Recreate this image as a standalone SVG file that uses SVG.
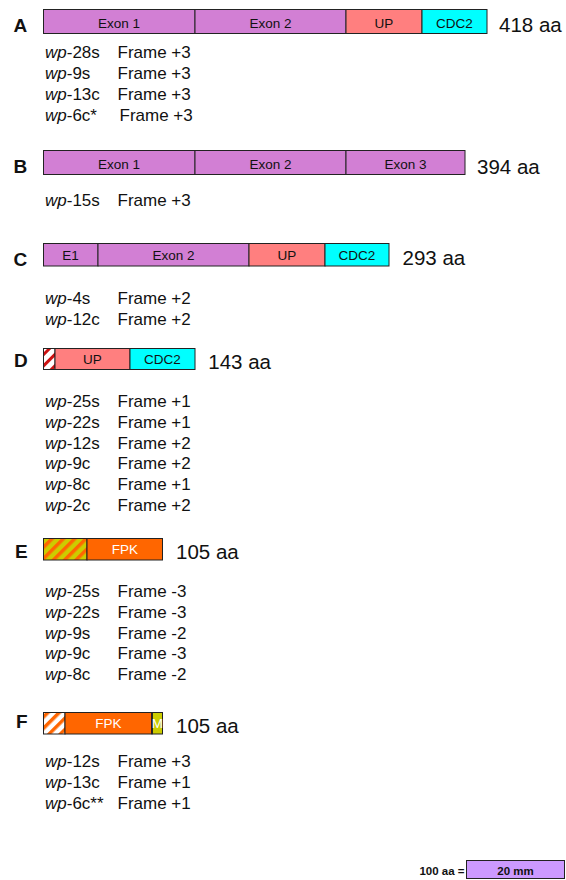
<svg xmlns="http://www.w3.org/2000/svg" width="566" height="880" viewBox="0 0 566 880">
  <style>
    text { font-family: "Liberation Sans", Arial, sans-serif; fill: #111; }
    .tag { font-size: 19px; font-weight: bold; }
    .len { font-size: 20.5px; }
    .seg { font-size: 13.5px; text-anchor: middle; }
    .segw { font-size: 13.5px; text-anchor: middle; fill: #fff; }
    .row { font-size: 17px; }
    .it { font-style: italic; }
    .box { stroke: #222; stroke-width: 1; }
    .exon { fill: #d27fd4; }
    .up { fill: #ff7f7f; }
    .cdc { fill: #00ffff; }
    .fpk { fill: #ff6600; }
    .m { fill: #cccc00; }
    .scale { font-size: 11.5px; font-weight: bold; }
  </style>
  <defs>
    <!-- diagonal stripe fills for the N-terminal leader segments -->
    <pattern id="hatchRed" patternUnits="userSpaceOnUse" width="8" height="8" patternTransform="rotate(45)">
      <rect width="8" height="8" fill="#fff"/>
      <rect width="3" height="8" fill="#cc1111"/>
    </pattern>
    <pattern id="hatchYellow" patternUnits="userSpaceOnUse" width="8" height="8" patternTransform="rotate(45)">
      <rect width="8" height="8" fill="#cccc00"/>
      <rect width="3.5" height="8" fill="#ff6600"/>
    </pattern>
    <pattern id="hatchWhite" patternUnits="userSpaceOnUse" width="8" height="8" patternTransform="rotate(45)">
      <rect width="8" height="8" fill="#fff"/>
      <rect width="3.5" height="8" fill="#ff6600"/>
    </pattern>
  </defs>

  <!-- A: 418 aa -->
  <g id="protein-A">
    <text class="tag" x="13.5" y="31.8">A</text>
    <rect class="box exon" x="43.5" y="9.5" width="151.5" height="24"/>
    <rect class="box exon" x="195" y="9.5" width="151" height="24"/>
    <rect class="box up" x="346" y="9.5" width="76" height="24"/>
    <rect class="box cdc" x="422" y="9.5" width="65" height="24"/>
    <text class="seg" x="119" y="27.5">Exon 1</text>
    <text class="seg" x="270.5" y="27.5">Exon 2</text>
    <text class="seg" x="384" y="27.5">UP</text>
    <text class="seg" x="454.5" y="27.5">CDC2</text>
    <text class="len" x="499" y="31.8">418 aa</text>
  </g>
  <g id="clones-A">
    <text class="row" x="45" y="57.5"><tspan class="it">wp</tspan>-28s</text>
    <text class="row" x="117.5" y="57.5">Frame +3</text>
    <text class="row" x="45" y="78.5"><tspan class="it">wp</tspan>-9s</text>
    <text class="row" x="117.5" y="78.5">Frame +3</text>
    <text class="row" x="45" y="99.5"><tspan class="it">wp</tspan>-13c</text>
    <text class="row" x="117.5" y="99.5">Frame +3</text>
    <text class="row" x="45" y="120.5"><tspan class="it">wp</tspan>-6c*</text>
    <text class="row" x="119.5" y="120.5">Frame +3</text>
  </g>

  <!-- B: 394 aa -->
  <g id="protein-B">
    <text class="tag" x="13.5" y="173.2">B</text>
    <rect class="box exon" x="43.5" y="150.5" width="151.5" height="24"/>
    <rect class="box exon" x="195" y="150.5" width="151" height="24"/>
    <rect class="box exon" x="346" y="150.5" width="119" height="24"/>
    <text class="seg" x="119" y="168.5">Exon 1</text>
    <text class="seg" x="270.5" y="168.5">Exon 2</text>
    <text class="seg" x="405.5" y="168.5">Exon 3</text>
    <text class="len" x="477" y="173.5">394 aa</text>
  </g>
  <g id="clones-B">
    <text class="row" x="45" y="205.5"><tspan class="it">wp</tspan>-15s</text>
    <text class="row" x="117.5" y="205.5">Frame +3</text>
  </g>

  <!-- C: 293 aa -->
  <g id="protein-C">
    <text class="tag" x="13.5" y="265.5">C</text>
    <rect class="box exon" x="43.5" y="243.5" width="54.5" height="22.5"/>
    <rect class="box exon" x="98" y="243.5" width="151" height="22.5"/>
    <rect class="box up" x="249" y="243.5" width="76" height="22.5"/>
    <rect class="box cdc" x="325" y="243.5" width="64" height="22.5"/>
    <text class="seg" x="70.5" y="260">E1</text>
    <text class="seg" x="173.5" y="260">Exon 2</text>
    <text class="seg" x="287" y="260">UP</text>
    <text class="seg" x="357" y="260">CDC2</text>
    <text class="len" x="402.5" y="265.4">293 aa</text>
  </g>
  <g id="clones-C">
    <text class="row" x="45" y="303.5"><tspan class="it">wp</tspan>-4s</text>
    <text class="row" x="117.5" y="303.5">Frame +2</text>
    <text class="row" x="45" y="324.5"><tspan class="it">wp</tspan>-12c</text>
    <text class="row" x="117.5" y="324.5">Frame +2</text>
  </g>

  <!-- D: 143 aa -->
  <g id="protein-D">
    <text class="tag" x="14" y="367.3">D</text>
    <rect class="box" x="43.5" y="348.5" width="11.5" height="21" fill="url(#hatchRed)"/>
    <rect class="box up" x="55" y="348.5" width="75" height="21"/>
    <rect class="box cdc" x="130" y="348.5" width="65" height="21"/>
    <text class="seg" x="92.5" y="364">UP</text>
    <text class="seg" x="162.5" y="364">CDC2</text>
    <text class="len" x="208.3" y="369">143 aa</text>
  </g>
  <g id="clones-D">
    <text class="row" x="45" y="406.7"><tspan class="it">wp</tspan>-25s</text>
    <text class="row" x="117.5" y="406.7">Frame +1</text>
    <text class="row" x="45" y="427.6"><tspan class="it">wp</tspan>-22s</text>
    <text class="row" x="117.5" y="427.6">Frame +1</text>
    <text class="row" x="45" y="448.5"><tspan class="it">wp</tspan>-12s</text>
    <text class="row" x="117.5" y="448.5">Frame +2</text>
    <text class="row" x="45" y="469.4"><tspan class="it">wp</tspan>-9c</text>
    <text class="row" x="117.5" y="469.4">Frame +2</text>
    <text class="row" x="45" y="490.3"><tspan class="it">wp</tspan>-8c</text>
    <text class="row" x="117.5" y="490.3">Frame +1</text>
    <text class="row" x="45" y="511.2"><tspan class="it">wp</tspan>-2c</text>
    <text class="row" x="117.5" y="511.2">Frame +2</text>
  </g>

  <!-- E: 105 aa -->
  <g id="protein-E">
    <text class="tag" x="15" y="558.3">E</text>
    <rect class="box" x="43.5" y="538.5" width="43.5" height="21.5" fill="url(#hatchYellow)"/>
    <rect class="box fpk" x="87" y="538.5" width="75.5" height="21.5"/>
    <text class="segw" x="125" y="554.3">FPK</text>
    <text class="len" x="176" y="559.3">105 aa</text>
  </g>
  <g id="clones-E">
    <text class="row" x="45" y="596.7"><tspan class="it">wp</tspan>-25s</text>
    <text class="row" x="117.5" y="596.7">Frame -3</text>
    <text class="row" x="45" y="617.6"><tspan class="it">wp</tspan>-22s</text>
    <text class="row" x="117.5" y="617.6">Frame -3</text>
    <text class="row" x="45" y="638.5"><tspan class="it">wp</tspan>-9s</text>
    <text class="row" x="117.5" y="638.5">Frame -2</text>
    <text class="row" x="45" y="659.4"><tspan class="it">wp</tspan>-9c</text>
    <text class="row" x="117.5" y="659.4">Frame -3</text>
    <text class="row" x="45" y="680.3"><tspan class="it">wp</tspan>-8c</text>
    <text class="row" x="117.5" y="680.3">Frame -2</text>
  </g>

  <!-- F: 105 aa -->
  <g id="protein-F">
    <text class="tag" x="16" y="727.7">F</text>
    <rect class="box" x="43.5" y="712.5" width="21.5" height="21.5" fill="url(#hatchWhite)"/>
    <rect class="box fpk" x="65" y="712.5" width="87" height="21.5"/>
    <rect class="box m" x="152" y="712.5" width="10.5" height="21.5"/>
    <line x1="152" y1="712.5" x2="152" y2="734" stroke="#222" stroke-width="1.8"/>
    <text class="segw" x="108.5" y="728.3">FPK</text>
    <text class="segw" x="157.3" y="728.3">M</text>
    <text class="len" x="176" y="733.3">105 aa</text>
  </g>
  <g id="clones-F">
    <text class="row" x="45" y="767.3"><tspan class="it">wp</tspan>-12s</text>
    <text class="row" x="117.5" y="767.3">Frame +3</text>
    <text class="row" x="45" y="788.2"><tspan class="it">wp</tspan>-13c</text>
    <text class="row" x="117.5" y="788.2">Frame +1</text>
    <text class="row" x="45" y="809.1"><tspan class="it">wp</tspan>-6c**</text>
    <text class="row" x="117.5" y="809.1">Frame +1</text>
  </g>

  <!-- scale bar -->
  <g id="scale-bar">
    <text class="scale" x="464.5" y="874.5" text-anchor="end">100 aa =</text>
    <rect x="466.5" y="860.5" width="98" height="18" fill="#cc99ff" stroke="#222" stroke-width="1"/>
    <text class="scale" x="515.5" y="874.5" text-anchor="middle">20 mm</text>
  </g>
</svg>
